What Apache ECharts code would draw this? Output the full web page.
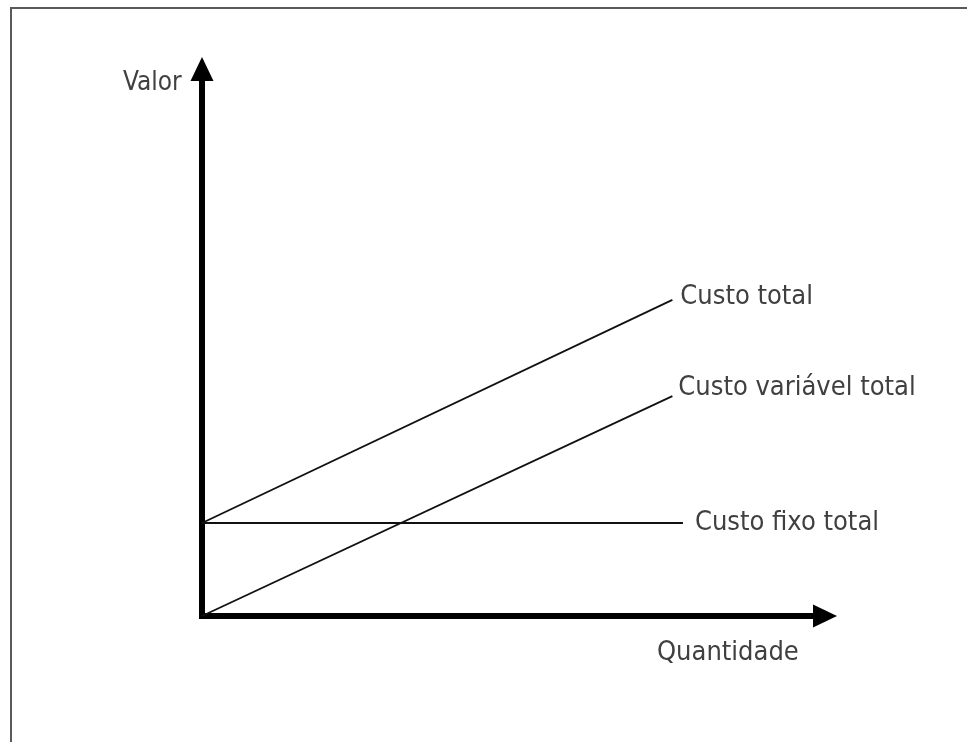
<!DOCTYPE html>
<html>
<head>
<meta charset="utf-8">
<script src="https://cdn.jsdelivr.net/npm/echarts@6/dist/echarts.min.js"></script>
<style>
    html, body { margin: 0; padding: 0; background: #fff; }
    #chart { width: 967px; height: 742px; }
</style>
</head>
<body>
<div id="chart"></div>
<script>
    // nomes das curvas
    var seriesNames = ['Custo total', 'Custo variável total', 'Custo fixo total'];
    // pontos [quantidade, valor] (escala 0-100)
    var custoTotal = [[0, 17], [75.5, 57.8]];
    var custoVariavel = [[0, 0], [75.5, 40.2]];
    var custoFixo = [[0, 17], [77.2, 17]];
    var axisNames = ['Quantidade', 'Valor'];

    var chart = echarts.init(document.getElementById('chart'));

    var fontFamily = '"DejaVu Sans Condensed", "Liberation Sans Narrow", "Open Sans"';
    var textColor = '#404040';

    function curve(name, data, dist, dy) {
        return {
            name: name,
            type: 'line',
            data: data,
            symbol: 'none',
            lineStyle: {color: '#111', width: 1.8},
            endLabel: {
                show: true,
                formatter: '{a}',
                distance: dist,
                offset: [0, dy],
                fontFamily: fontFamily,
                fontSize: 27,
                color: textColor
            }
        };
    }

    var option = {
        animation: false,
        backgroundColor: '#fff',
        grid: {left: 202, top: 69, width: 623, height: 547},
        xAxis: {
            type: 'value',
            min: 0,
            max: 100,
            axisLine: {
                symbol: ['none', 'triangle'],
                symbolSize: [23, 24],
                lineStyle: {color: '#000', width: 6, cap: 'square'}
            },
            axisTick: {show: false},
            axisLabel: {show: false},
            splitLine: {show: false}
        },
        yAxis: {
            type: 'value',
            min: 0,
            max: 100,
            axisLine: {
                show: true,
                symbol: ['none', 'triangle'],
                symbolSize: [23, 24],
                lineStyle: {color: '#000', width: 6, cap: 'square'}
            },
            axisTick: {show: false},
            axisLabel: {show: false},
            splitLine: {show: false}
        },
        graphic: [
            {
                type: 'rect',
                shape: {x: 11, y: 8, width: 1000, height: 800},
                style: {fill: null, stroke: '#5a5a5a', lineWidth: 2},
                silent: true
            },
            {
                type: 'text',
                left: 123,
                top: 70,
                style: {text: axisNames[1], fontFamily: fontFamily, fontSize: 26, fill: textColor}
            },
            {
                type: 'text',
                left: 657,
                top: 639,
                style: {text: axisNames[0], fontFamily: fontFamily, fontSize: 27, fill: textColor}
            }
        ],
        series: [
            curve(seriesNames[0], custoTotal, 8, -3),
            curve(seriesNames[1], custoVariavel, 6, -8),
            curve(seriesNames[2], custoFixo, 12, 0)
        ]
    };

    chart.setOption(option);
</script>
</body>
</html>
